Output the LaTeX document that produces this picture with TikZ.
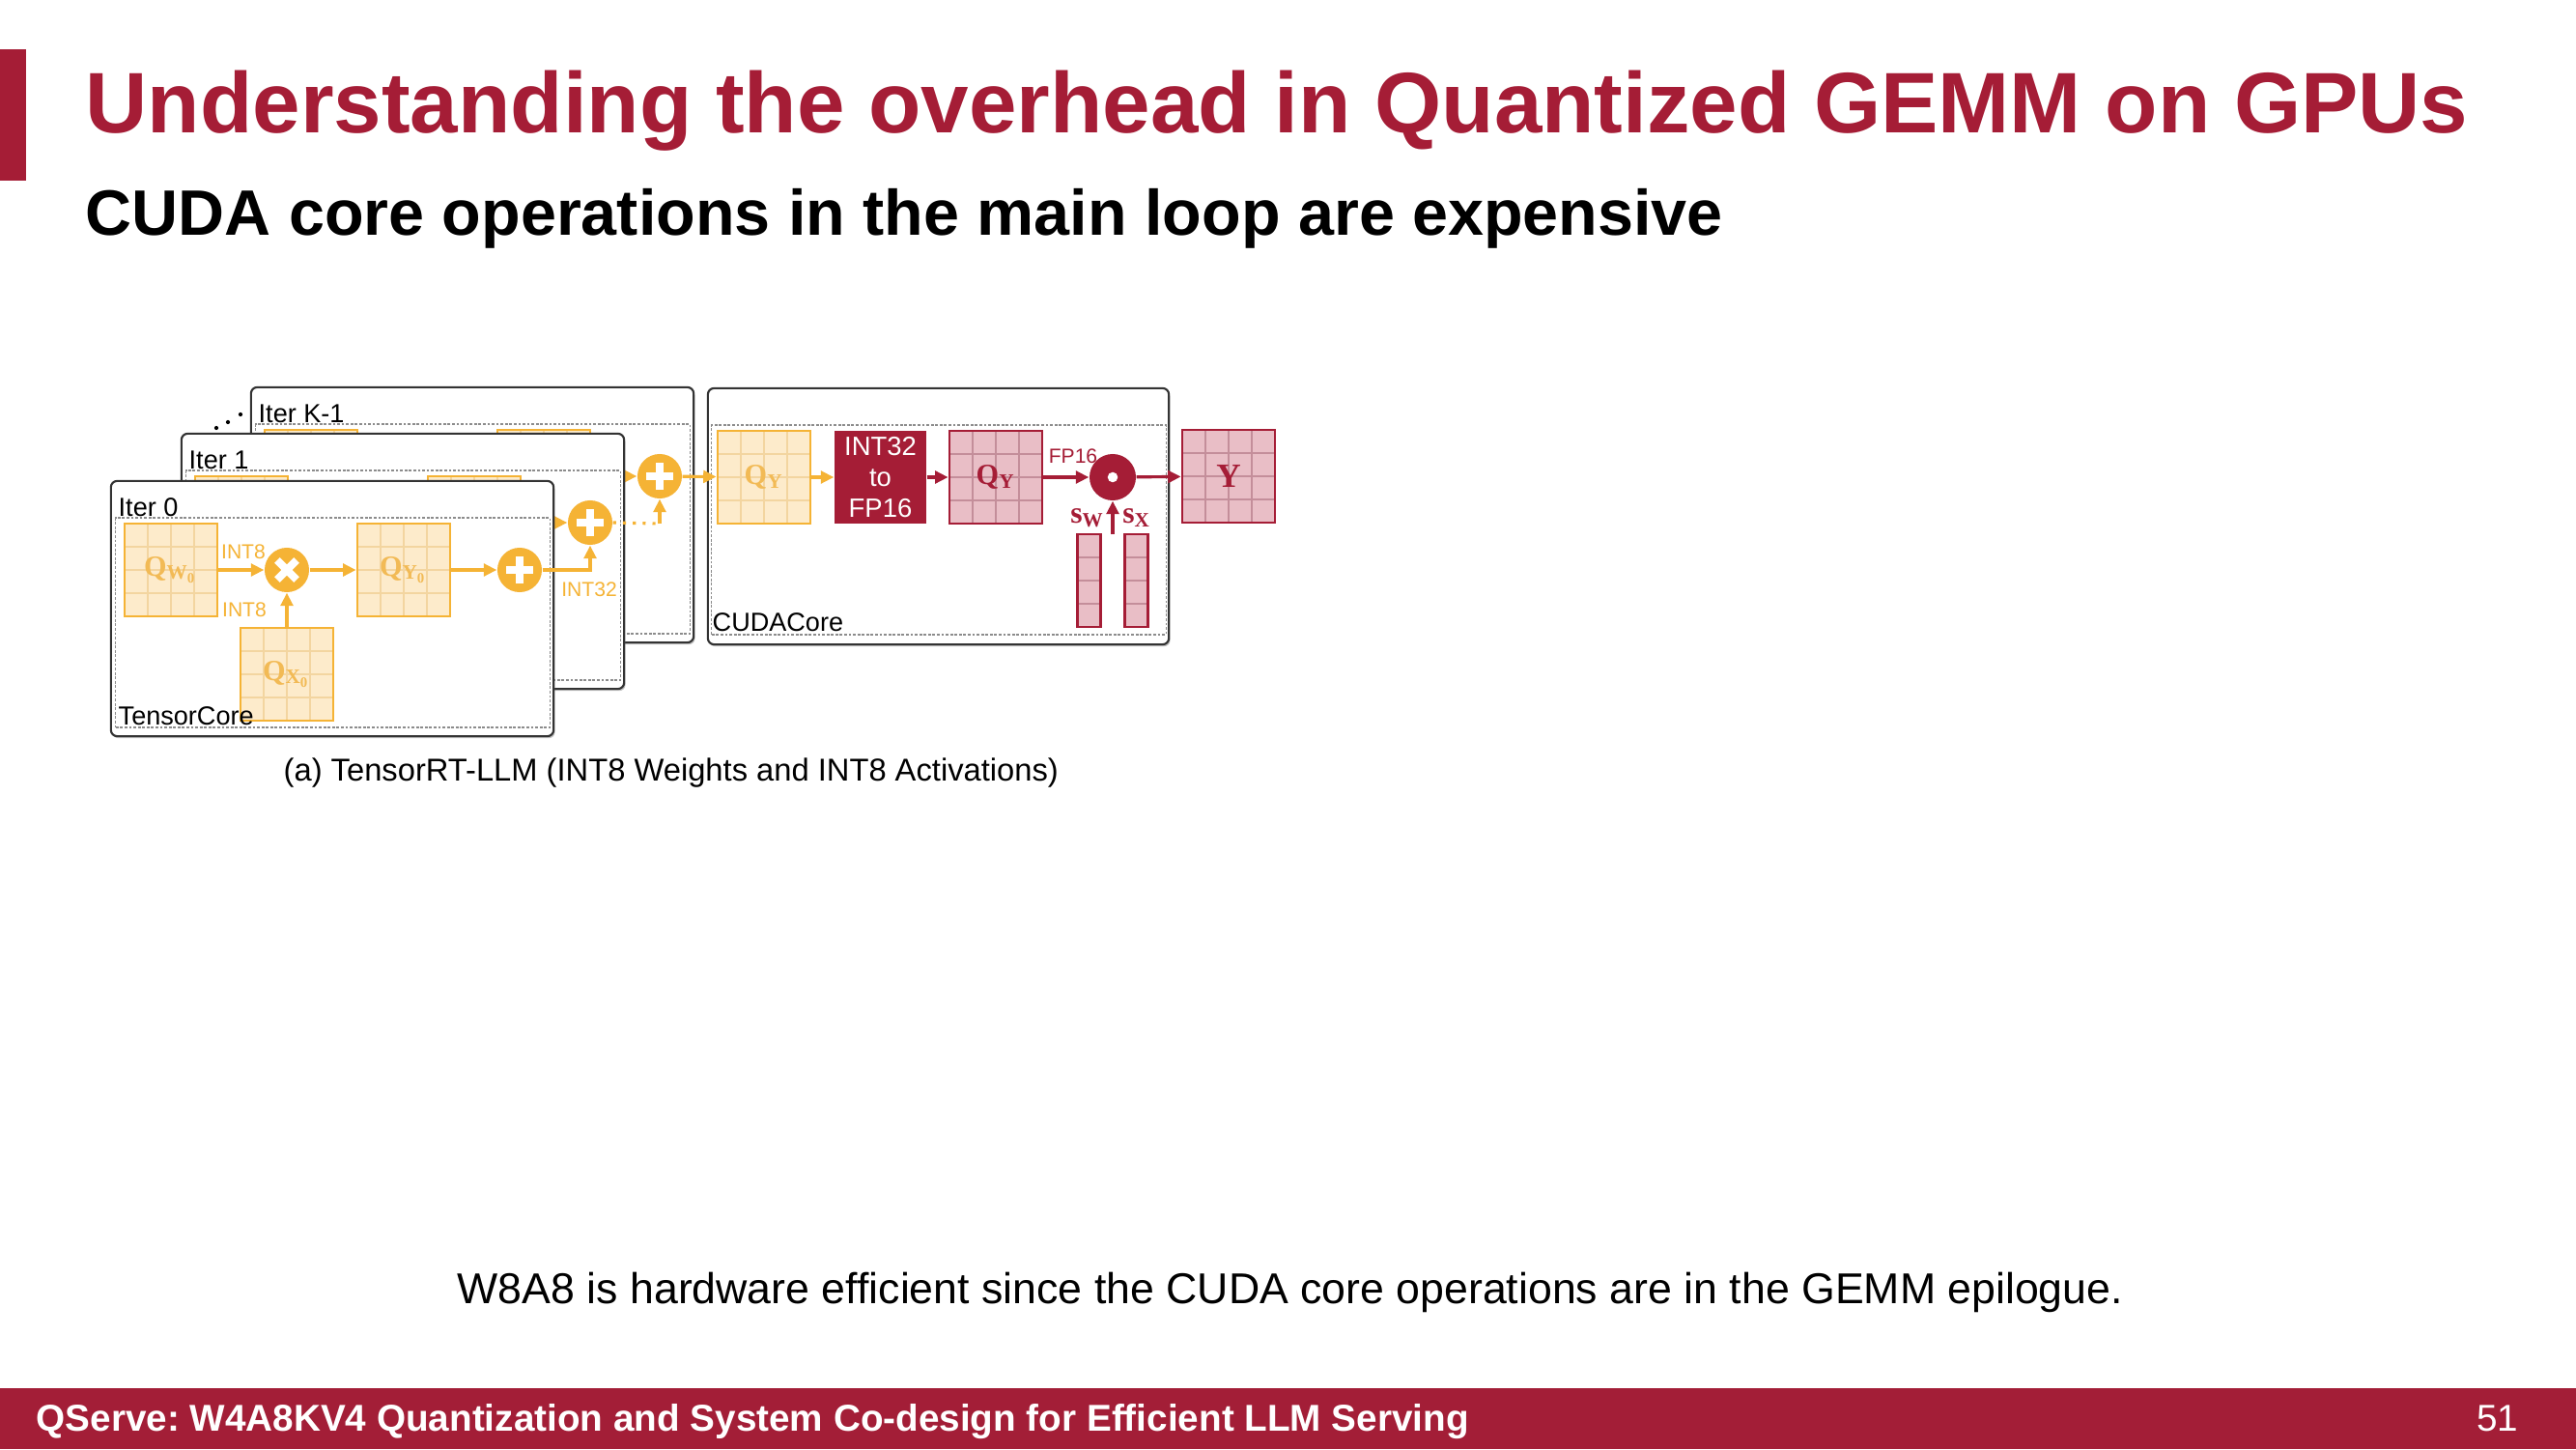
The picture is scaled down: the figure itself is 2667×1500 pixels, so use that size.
\documentclass[tikz,border=0pt]{standalone}
\usepackage{fontspec}
\setmainfont{Liberation Sans}
\newfontfamily\qserif{Liberation Serif}
\usetikzlibrary{arrows.meta,calc,shadows}
\frenchspacing

\definecolor{brand}{HTML}{A51D36}
\definecolor{footred}{HTML}{A31E37}
\definecolor{ogold}{HTML}{F5B335}
\definecolor{ofill}{HTML}{FDEBCB}
\definecolor{ogrid}{HTML}{F3D5A0}
\definecolor{otext}{HTML}{F2BA55}
\definecolor{pfill}{HTML}{E9BEC6}
\definecolor{pgrid}{HTML}{C48E9A}

\tikzset{
  lbl/.style={inner sep=0pt, anchor=base west},
  frame/.style={draw=black!80, line width=0.6pt, fill=white, rounded corners=1.8pt,
    drop shadow={shadow xshift=0.4pt, shadow yshift=-0.6pt, fill=black!60, opacity=0.4},
    minimum width=4.58cm, minimum height=2.64cm, inner sep=0pt},
  innerbox/.style={draw=black!45, line width=0.35pt, dash pattern=on 0.8pt off 0.5pt,
    inner sep=0pt},
  grid4/.style={path picture={
    \foreach \f in {0.25,0.5,0.75}{
      \draw[#1, line width=0.4pt]
        ($(path picture bounding box.south west)!\f!(path picture bounding box.south east)$) --
        ($(path picture bounding box.north west)!\f!(path picture bounding box.north east)$);
      \draw[#1, line width=0.4pt]
        ($(path picture bounding box.south west)!\f!(path picture bounding box.north west)$) --
        ($(path picture bounding box.south east)!\f!(path picture bounding box.north east)$);
    }}},
  rows4/.style={path picture={
    \foreach \f in {0.25,0.5,0.75}{
      \draw[#1, line width=0.4pt]
        ($(path picture bounding box.south west)!\f!(path picture bounding box.north west)$) --
        ($(path picture bounding box.south east)!\f!(path picture bounding box.north east)$);
    }}},
  qfont/.style={font=\qserif\bfseries\fontsize{8.6pt}{8.6pt}\selectfont},
  omat/.style={draw=ogold, line width=0.8pt, fill=ofill, minimum size=0.96cm, inner sep=0pt,
    grid4=ogrid, qfont, text=otext},
  rmat/.style={draw=brand, line width=0.8pt, fill=pfill, minimum size=0.96cm, inner sep=0pt,
    grid4=pgrid, qfont, text=brand},
  vbar/.style={draw=brand, line width=0.8pt, fill=pfill, minimum width=0.24cm,
    minimum height=0.96cm, inner sep=0pt, rows4=pgrid},
  opcirc/.style={circle, fill=ogold, minimum size=0.46cm, inner sep=0pt},
  plussign/.style={opcirc, path picture={
    \draw[white, line width=2.3pt] ($(path picture bounding box.center)+(-0.14cm,0pt)$) -- ++(0.28cm,0pt);
    \draw[white, line width=2.3pt] ($(path picture bounding box.center)+(0pt,-0.14cm)$) -- ++(0pt,0.28cm);}},
  timessign/.style={opcirc, path picture={
    \draw[white, line width=2.3pt] ($(path picture bounding box.center)+(-0.1cm,-0.1cm)$) -- ++(0.2cm,0.2cm);
    \draw[white, line width=2.3pt] ($(path picture bounding box.center)+(-0.1cm,0.1cm)$) -- ++(0.2cm,-0.2cm);}},
  odotsign/.style={circle, fill=brand, minimum size=0.48cm, inner sep=0pt, path picture={
    \fill[white] (path picture bounding box.center) circle (1.5pt);}},
  oarr/.style={draw=ogold, line width=0.9pt, -{Triangle[length=3.8pt,width=3.6pt]}},
  rarr/.style={draw=brand, line width=0.9pt, -{Triangle[length=3.8pt,width=3.6pt]}},
  olabel/.style={inner sep=0pt, text=ogold, font=\fontsize{6pt}{6pt}\selectfont},
  rlabel/.style={inner sep=0pt, text=brand, font=\fontsize{6pt}{6pt}\selectfont},
  tag/.style={lbl, font=\fontsize{7.7pt}{8pt}\selectfont},
}

\begin{document}
\begin{tikzpicture}[x=0.01cm, y=-0.01cm]
\useasboundingbox (0,0) rectangle (2667,1500);
\fill[white] (0,0) rectangle (2667,1500);

% slide header
\fill[brand] (0,51) rectangle (27,187);
\node[lbl, text=brand, font=\bfseries\fontsize{25.3pt}{30pt}\selectfont] (title) at (88,138)
  {Understanding the overhead in Quantized GEMM on GPUs};
\node[lbl, font=\bfseries\fontsize{18.9pt}{22pt}\selectfont] (subtitle) at (88,243)
  {CUDA core operations in the main loop are expensive};

% stacked main-loop iterations, back to front
\foreach \n/\dx/\dy/\ttl/\wl/\xl/\yl in {
    k/145/-97/{Iter K-1}/{}/{}/{},
    1/73/-49/{Iter 1}/{}/{}/{},
    0/0/0/{Iter 0}/{Q\textsubscript{W\textsubscript{0}}}/{Q\textsubscript{X\textsubscript{0}}}/{Q\textsubscript{Y\textsubscript{0}}}}{
  \begin{scope}[shift={(\dx,\dy)}]
    \node[frame] (f\n) at (344,630) {};
    \node[innerbox, minimum width=4.49cm, minimum height=2.17cm] (i\n) at (344.5,644.5) {};
    \node[tag] (t\n) at (122,534) {\ttl};
    \node[omat] (w\n) at (177,590) {\wl};
    \node[timessign] (m\n) at (297,590) {};
    \node[omat] (x\n) at (297,698) {\xl};
    \node[omat] (y\n) at (418,590) {\yl};
    \node[plussign] (p\n) at (538,590) {};
    \draw[oarr] (w\n) -- (m\n);
    \draw[oarr] (x\n.north) -- (m\n.south);
    \draw[oarr] (m\n) -- (y\n);
    \draw[oarr] (y\n) -- (p\n);
  \end{scope}
}
\node[tag] (tc) at (122,750) {TensorCore};
\node[olabel] (int8a) at (252,571) {INT8};
\node[olabel] (int8b) at (253,631) {INT8};
\node[olabel] (int32) at (610,610) {INT32};

% accumulation across iterations
\draw[oarr] (p0.east) -| (p1.south);
\coordinate (dk) at (683,542);
\draw[ogold, line width=0.9pt, dotted] (p1.east) -- (dk);
\draw[oarr] (dk) -- (pk.south);
\fill (224,443) circle (0.6pt) (236,437) circle (0.6pt) (249,429) circle (0.6pt);

% epilogue on CUDA cores
\node[frame, minimum width=4.77cm, minimum height=2.65cm] (fc) at (971.5,534.5) {};
\node[innerbox, minimum width=4.70cm, minimum height=2.17cm] (ic) at (972,548.5) {};
\node[tag] (cc) at (737,653) {CUDACore};
\node[omat] (qy) at (791,494) {Q\textsubscript{Y}};
\node[fill=brand, minimum width=0.95cm, minimum height=0.96cm, inner sep=0pt, text=white,
  align=center, font=\fontsize{7.8pt}{9.2pt}\selectfont] (conv) at (911.5,494) {INT32\\to\\FP16};
\node[rmat] (qr) at (1031,494) {Q\textsubscript{Y}};
\node[odotsign] (od) at (1152,494) {};
\node[rmat, font=\qserif\bfseries\fontsize{10pt}{10pt}\selectfont] (yout) at (1272,493) {Y};
\node[vbar] (sw) at (1127.5,601) {};
\node[vbar] (sx) at (1176.5,601) {};
\coordinate (sa) at (1152,553);
\node[inner sep=0pt, text=brand, font=\qserif\bfseries\fontsize{9pt}{9pt}\selectfont] (swl) at (1126,536) {s\textsubscript{W}};
\node[inner sep=0pt, text=brand, font=\qserif\bfseries\fontsize{9pt}{9pt}\selectfont] (sxl) at (1177,536) {s\textsubscript{X}};
\node[rlabel] (fp16) at (1111,472) {FP16};

\draw[oarr] (pk) -- (qy);
\draw[oarr] (qy) -- (conv);
\draw[rarr] (conv) -- (qr);
\draw[rarr] (qr) -- (od);
\draw[rarr] (od) -- (yout);
\draw[rarr] (sa) -- (od.south);

% captions
\node[lbl, font=\fontsize{9.3pt}{11pt}\selectfont] (cap) at (293,808)
  {(a) TensorRT-LLM (INT8 Weights and INT8 Activations)};
\node[lbl, font=\fontsize{12.7pt}{15pt}\selectfont] (note) at (473,1349)
  {W8A8 is hardware efficient since the CUDA core operations are in the GEMM epilogue.};

% footer
\fill[footred] (0,1437) rectangle (2667,1500);
\node[lbl, text=white, font=\bfseries\fontsize{11pt}{13pt}\selectfont] (foot) at (37,1481)
  {QServe: W4A8KV4 Quantization and System Co-design for Efficient LLM Serving};
\node[inner sep=0pt, anchor=base east, text=white, font=\fontsize{11pt}{13pt}\selectfont] (page) at (2608,1481) {51};
\end{tikzpicture}
\end{document}
